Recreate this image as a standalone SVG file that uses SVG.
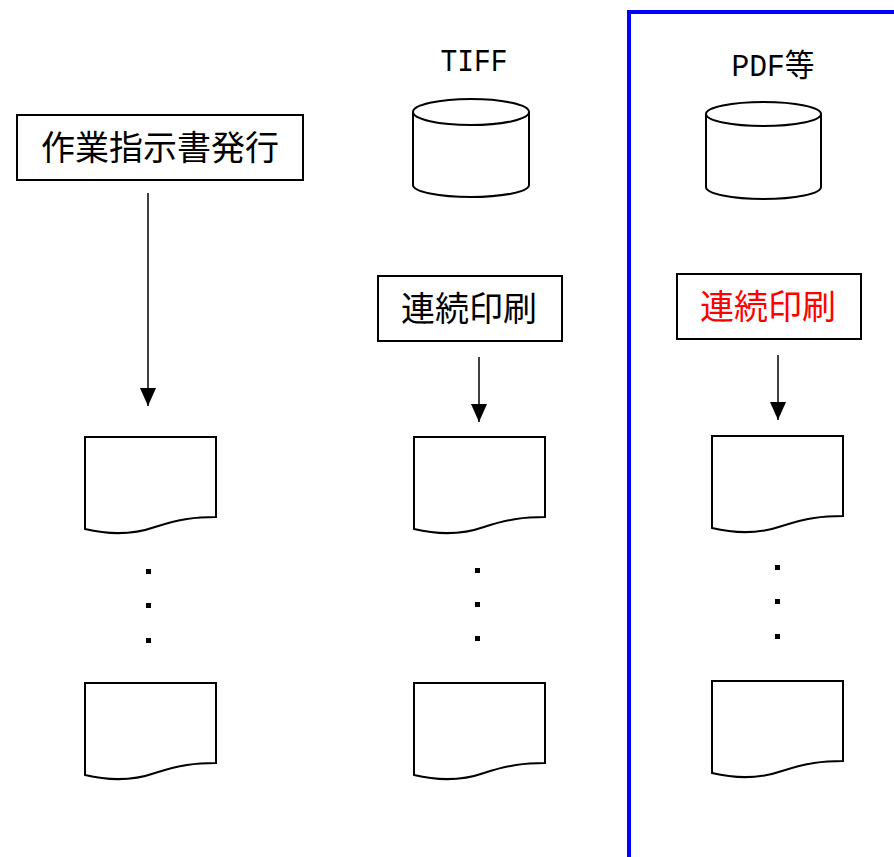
<svg xmlns="http://www.w3.org/2000/svg" width="894" height="857" viewBox="0 0 894 857">
<style>
.box{fill:#fff;stroke:#000;stroke-width:2}
.doc{fill:#fff;stroke:#000;stroke-width:2}
.cyl{fill:#fff;stroke:#000;stroke-width:2}
.t{font-family:"Noto Sans CJK JP",sans-serif;font-size:34px;text-anchor:middle;fill:#000}
.lbl{font-family:"Liberation Mono","Noto Sans CJK JP",monospace;font-size:31px;text-anchor:middle;fill:#000}
.ln{stroke:#000;stroke-width:1.5;fill:none}
.dot{fill:#000}
</style>
<defs>
<marker id="ah" markerWidth="18" markerHeight="16" refX="18" refY="8" orient="auto" markerUnits="userSpaceOnUse" viewBox="0 0 18 16">
<path d="M0,0 L18,8 L0,16 Z" fill="#000"/>
</marker>
<path id="docshape" d="M0,0 H131 V80 C110,80 95,82 70,90 C50,97 25,98 0,92 Z"/>
</defs>
<rect width="894" height="857" fill="#fff"/>
<path d="M629,857 V12 H894" fill="none" stroke="#0000ff" stroke-width="4"/>

<g id="n1"><rect class="box" x="17" y="115" width="286" height="65"/><text class="t" x="160" y="160">作業指示書発行</text></g>
<g id="tiff"><text class="lbl" x="474" y="71" textLength="67" lengthAdjust="spacingAndGlyphs">TIFF</text>
<path class="cyl" d="M413,112 V185 A58,12 0 0 0 529,185 V112"/><ellipse class="cyl" cx="471" cy="112" rx="58" ry="13"/></g>
<g id="pdf"><text class="lbl" x="773" y="76" textLength="83" lengthAdjust="spacingAndGlyphs">PDF等</text>
<path class="cyl" d="M706,114 V187 A57.5,12 0 0 0 821,187 V114"/><ellipse class="cyl" cx="763.5" cy="114" rx="57.5" ry="12"/></g>
<g id="n2"><rect class="box" x="378" y="276" width="184" height="65"/><text class="t" x="469" y="321">連続印刷</text></g>
<g id="n3"><rect class="box" x="677" y="274" width="184" height="65"/><text class="t" x="768" y="319" style="fill:#ff0000">連続印刷</text></g>

<g id="d1a"><use href="#docshape" class="doc" x="85" y="437"/></g>
<g id="d1b"><use href="#docshape" class="doc" x="85" y="683"/></g>
<g id="d2a"><use href="#docshape" class="doc" x="414" y="437"/></g>
<g id="d2b"><use href="#docshape" class="doc" x="414" y="683"/></g>
<g id="d3a"><use href="#docshape" class="doc" x="712" y="436"/></g>
<g id="d3b"><use href="#docshape" class="doc" x="712" y="681"/></g>

<g id="dots">
<rect class="dot" x="146" y="569" width="5" height="5"/><rect class="dot" x="146" y="603" width="5" height="5"/><rect class="dot" x="146" y="638" width="5" height="5"/>
<rect class="dot" x="475" y="568" width="5" height="5"/><rect class="dot" x="475" y="602" width="5" height="5"/><rect class="dot" x="475" y="636" width="5" height="5"/>
<rect class="dot" x="775" y="565" width="5" height="5"/><rect class="dot" x="775" y="599" width="5" height="5"/><rect class="dot" x="775" y="634" width="5" height="5"/>
</g>

<g id="connectors">
<line class="ln" x1="148" y1="193" x2="148" y2="406" marker-end="url(#ah)"/>
<line class="ln" x1="479" y1="357" x2="479" y2="422" marker-end="url(#ah)"/>
<line class="ln" x1="778" y1="355" x2="778" y2="420" marker-end="url(#ah)"/>
</g>
</svg>
